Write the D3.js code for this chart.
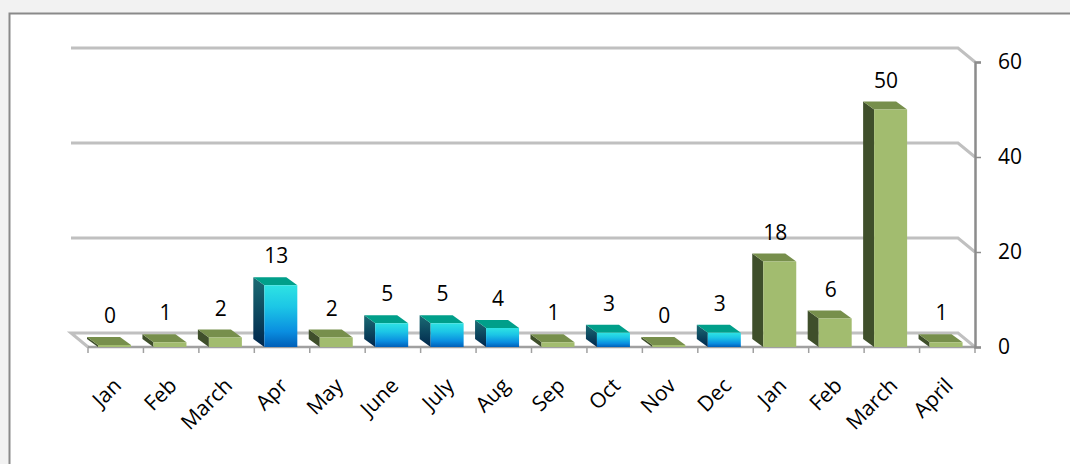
<!DOCTYPE html>
<html>
<head>
<meta charset="utf-8">
<script src="https://cdn.jsdelivr.net/npm/d3@7"></script>
<style>
  html, body { margin: 0; padding: 0; background: #f2f2f2; }
  svg { display: block; font-family: "Open Sans", sans-serif; }
</style>
</head>
<body>
<svg width="1070" height="464"></svg>
<script>
// months on the x axis (two years, so names repeat)
const categories = ['Jan', 'Feb', 'March', 'Apr', 'May', 'June', 'July', 'Aug', 'Sep', 'Oct', 'Nov', 'Dec', 'Jan', 'Feb', 'March', 'April']
const values = [0, 1, 2, 13, 2, 5, 5, 4, 1, 3, 0, 3, 18, 6, 50, 1]
// which bars are drawn in the blue style
const blueMonths = [3, 5, 6, 7, 9, 11]
const yTicks = [0, 20, 40, 60]

const width = 1070
const height = 464
const floorY = 347
const depth = {dx: -17, dy: -14}   // back wall offset
const barDepth = {dx: -11, dy: -8}
const fontSize = 21

const svg = d3.select('svg')

// white chart panel
svg.append('rect')
  .attr('x', 9.5).attr('y', 13.5)
  .attr('width', width).attr('height', height)
  .attr('fill', '#fff')
  .attr('stroke', '#8a8a8a')
  .attr('stroke-width', 2)

const x = d3.scaleBand()
  .domain(d3.range(categories.length))
  .range([88, 975])

const y = d3.scaleLinear()
  .domain([0, 60])
  .range([floorY, 62])

const defs = svg.append('defs')
const grad = (id, stops) => {
  const g = defs.append('linearGradient').attr('id', id)
    .attr('x1', 0).attr('y1', 0).attr('x2', 0).attr('y2', 1)
  stops.forEach(([o, c]) => g.append('stop').attr('offset', o).attr('stop-color', c))
}
grad('blueFront', [[0, '#2ee3e3'], [0.35, '#1cc6e6'], [0.75, '#0a8ee0'], [1, '#005fb8']])
grad('blueSide', [[0, '#1b6c74'], [1, '#00264c']])

const xr = 975

// gridlines on back wall + diagonal to the right axis
const grid = svg.append('g')
grid.selectAll('path.grid')
  .data(yTicks)
  .join('path')
  .attr('class', 'grid')
  .attr('fill', 'none')
  .attr('stroke', '#c0c0c0')
  .attr('stroke-width', 3)
  .attr('d', d => d === 0
    ? `M${xr},${y(d)} L${xr + depth.dx},${y(d) + depth.dy} L${x(0) + depth.dx},${y(d) + depth.dy} L${x(0)},${y(d)}`
    : `M${x(0) + depth.dx},${y(d) + depth.dy} L${xr + depth.dx},${y(d) + depth.dy} L${xr},${y(d)}`)

// x axis front line
svg.append('line')
  .attr('x1', x(0)).attr('x2', xr)
  .attr('y1', floorY).attr('y2', floorY)
  .attr('stroke', '#a0a0a0').attr('stroke-width', 2.5)

// x ticks
svg.append('g').selectAll('line')
  .data(d3.range(categories.length + 1))
  .join('line')
  .attr('x1', i => x.step() * i + x(0))
  .attr('x2', i => x.step() * i + x(0))
  .attr('y1', floorY).attr('y2', floorY + 6)
  .attr('stroke', '#a0a0a0').attr('stroke-width', 1.5)

// right axis
const yAxis = g => g
  .attr('transform', `translate(${xr}, 0)`)
  .call(d3.axisRight(y).tickValues(yTicks).tickSize(6).tickPadding(17))
  .call(g => g.select('.domain').attr('stroke', '#8c8c8c').attr('stroke-width', 2.5))
  .call(g => g.selectAll('.tick line').attr('stroke', '#8c8c8c').attr('stroke-width', 1.5))
  .call(g => g.selectAll('.tick text').attr('font-size', fontSize).attr('fill', '#000')
    .attr('font-family', '"Open Sans", sans-serif'))
svg.append('g').call(yAxis)

// bars
const frontX = i => x(i) + 10
const barW = 33
const topY = v => Math.min(y(v), floorY - 2)

const bars = svg.append('g').selectAll('g.bar')
  .data(values.map((v, i) => ({v, i, blue: blueMonths.includes(i)})))
  .join('g')
  .attr('class', 'bar')

// left side
bars.append('path')
  .attr('fill', d => d.blue ? 'url(#blueSide)' : '#3f4f2b')
  .attr('d', d => {
    const fx = frontX(d.i), ty = topY(d.v)
    return `M${fx},${ty} L${fx + barDepth.dx},${ty + barDepth.dy} L${fx + barDepth.dx},${floorY + barDepth.dy} L${fx},${floorY} Z`
  })
// top
bars.append('path')
  .attr('fill', d => d.blue ? '#009f8a' : '#778f4c')
  .attr('d', d => {
    const fx = frontX(d.i), ty = topY(d.v)
    return `M${fx},${ty} L${fx + barW},${ty} L${fx + barW + barDepth.dx},${ty + barDepth.dy} L${fx + barDepth.dx},${ty + barDepth.dy} Z`
  })
// front
bars.append('rect')
  .attr('x', d => frontX(d.i))
  .attr('y', d => topY(d.v))
  .attr('width', barW)
  .attr('height', d => floorY - topY(d.v))
  .attr('fill', d => d.blue ? 'url(#blueFront)' : '#a2bc6f')

// data labels
bars.append('text')
  .attr('x', d => x(d.i) + 22)
  .attr('y', d => topY(d.v) + barDepth.dy - 14)
  .attr('text-anchor', 'middle')
  .attr('font-size', fontSize)
  .text(d => d.v)

// month labels
svg.append('g').selectAll('text')
  .data(categories)
  .join('text')
  .attr('transform', (d, i) => `translate(${x(i) + x.bandwidth() / 2 + 7}, ${floorY + 40}) rotate(-45)`)
  .attr('text-anchor', 'end')
  .attr('font-size', fontSize)
  .text(d => d)
</script>
</body>
</html>
